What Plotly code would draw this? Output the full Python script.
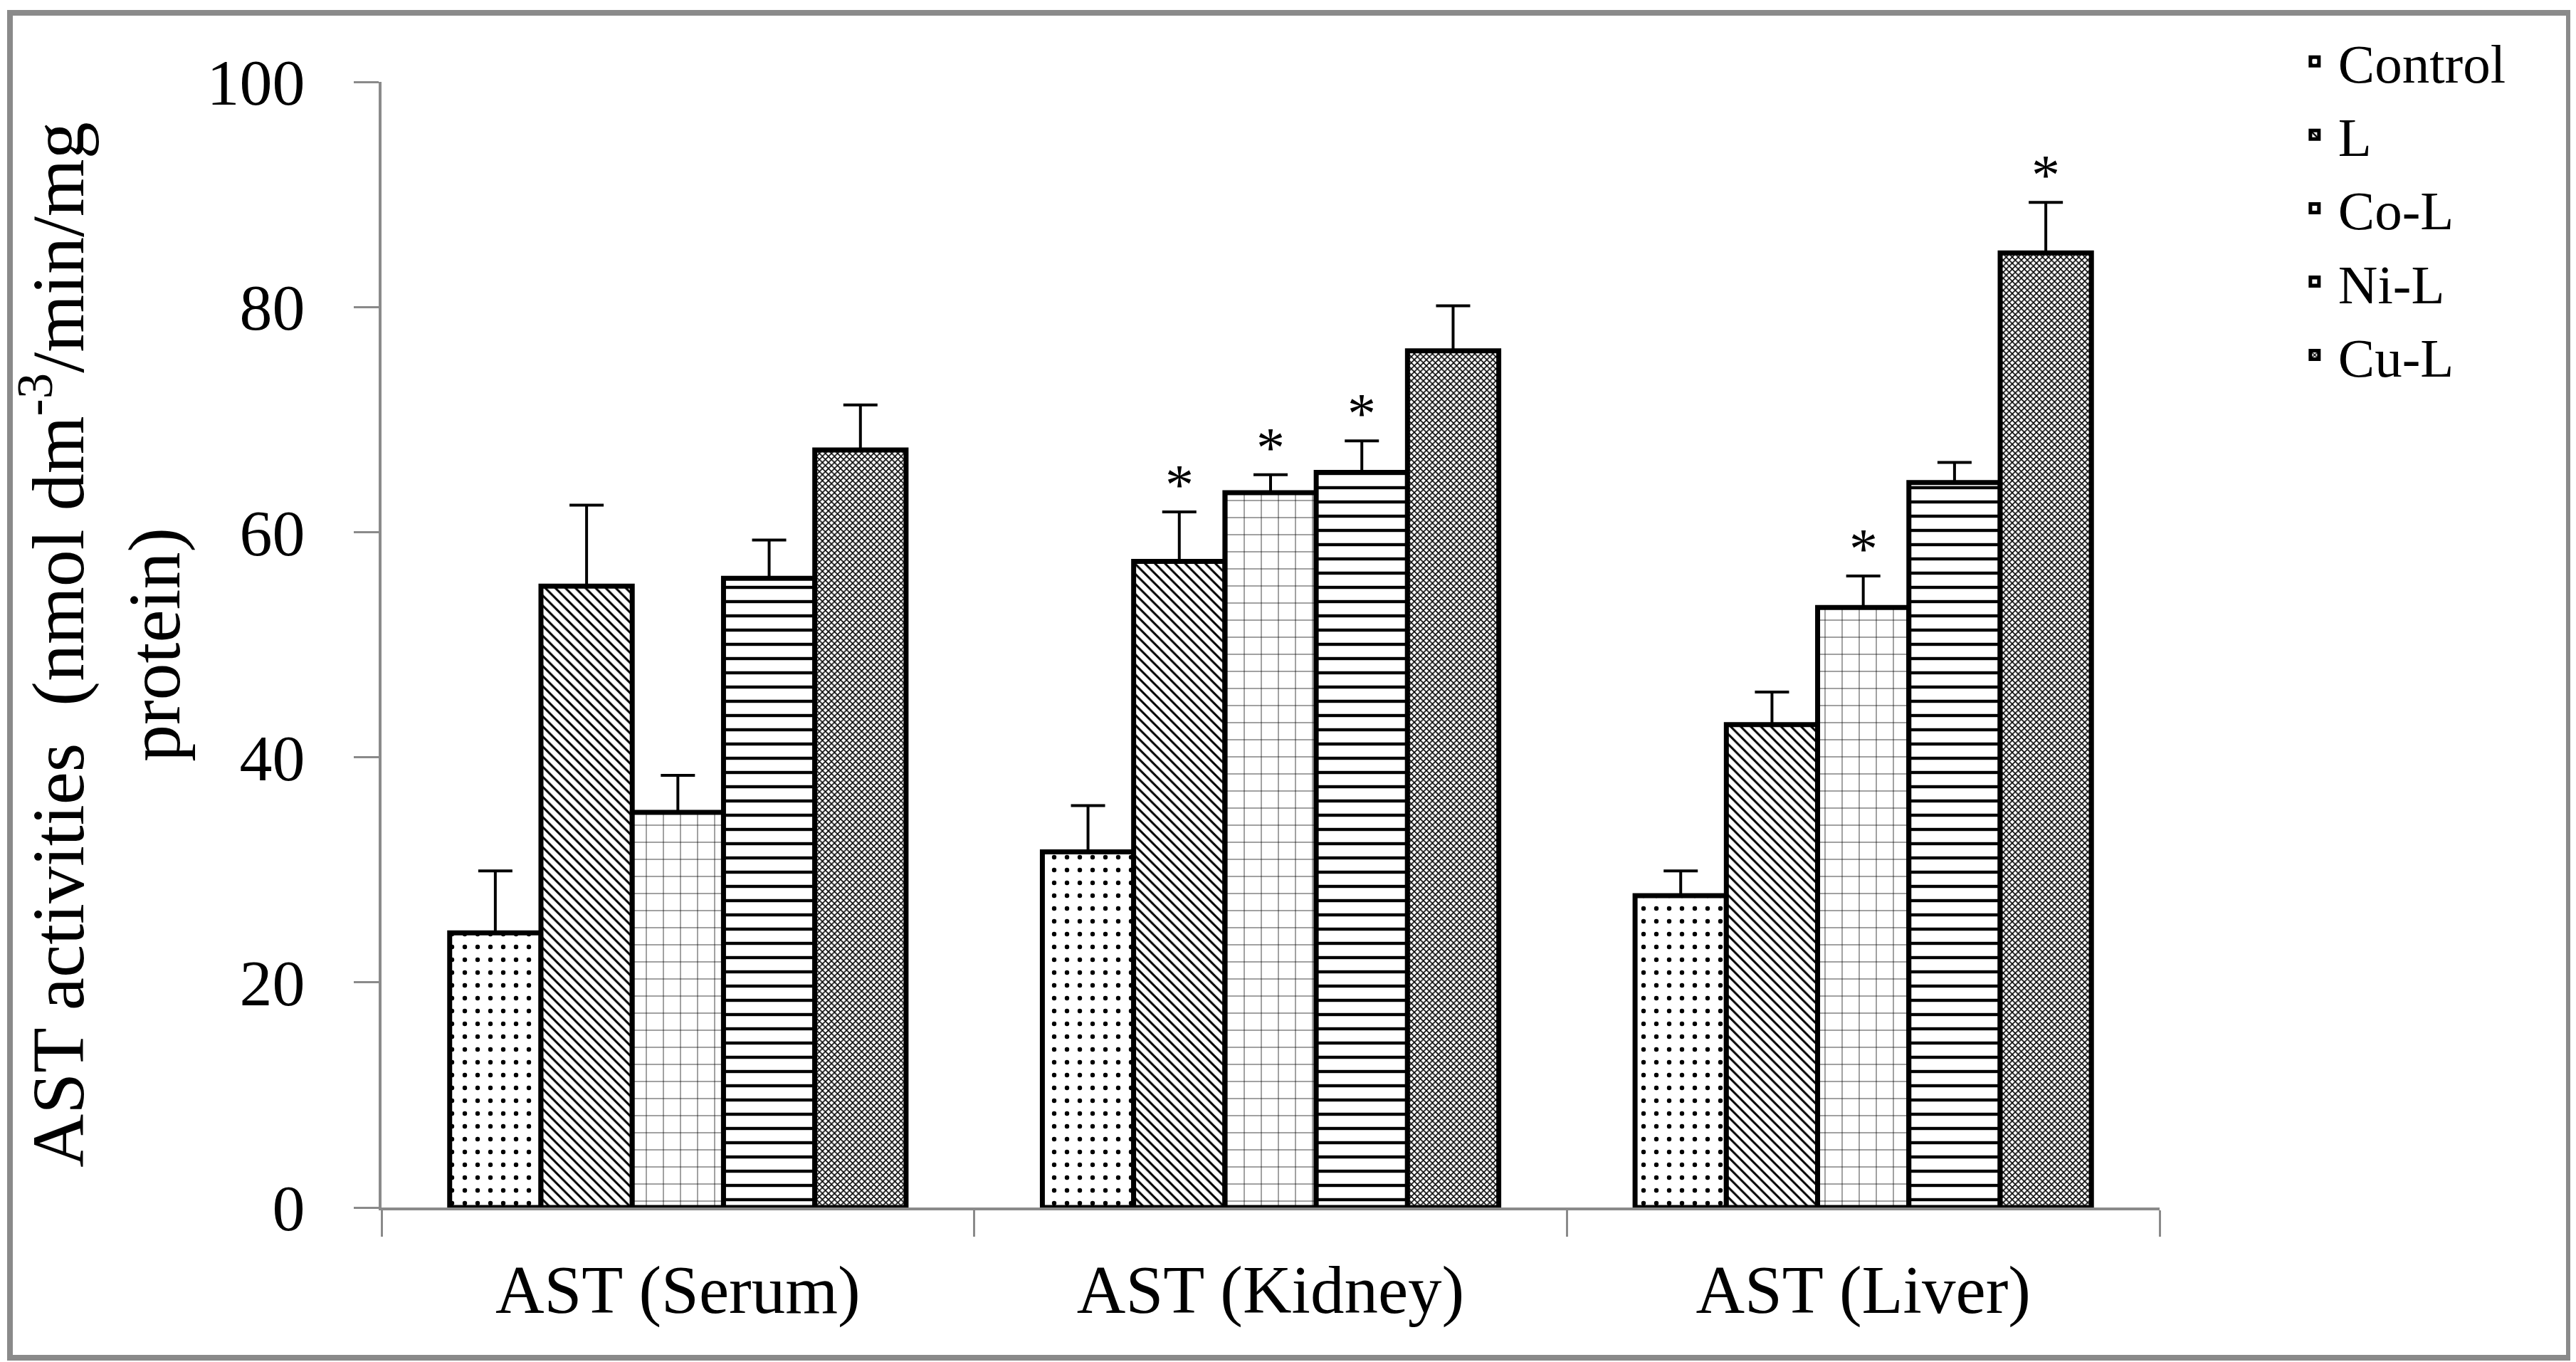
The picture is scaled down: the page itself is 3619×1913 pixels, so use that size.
import plotly.graph_objects as go

categories = ["AST (Serum)", "AST (Kidney)", "AST (Liver)"]
series_names = ["Control", "L", "Co-L", "Ni-L", "Cu-L"]

control = [24.4, 31.6, 27.7]
ligand = [55.2, 57.4, 42.9]
co_l = [35.1, 63.5, 53.3]
ni_l = [55.9, 65.3, 64.4]
cu_l = [67.3, 76.1, 84.8]

control_err = [5.5, 4.1, 2.2]
ligand_err = [7.2, 4.4, 2.9]
co_l_err = [3.3, 1.6, 2.8]
ni_l_err = [3.4, 2.8, 1.8]
cu_l_err = [4.0, 4.0, 4.5]

# significance markers (1 = asterisk)
control_sig = [0, 0, 0]
ligand_sig = [0, 1, 0]
co_l_sig = [0, 1, 1]
ni_l_sig = [0, 1, 0]
cu_l_sig = [0, 0, 1]

values = [control, ligand, co_l, ni_l, cu_l]
errors = [control_err, ligand_err, co_l_err, ni_l_err, cu_l_err]
sigs = [control_sig, ligand_sig, co_l_sig, ni_l_sig, cu_l_sig]

patterns = [
    dict(shape=".", size=18, solidity=0.1),
    dict(shape="\\", size=10, solidity=0.3),
    dict(shape="+", size=24, solidity=0.06),
    dict(shape="-", size=20, solidity=0.22),
    dict(shape="x", size=6, solidity=0.45),
]

FONT = "Liberation Serif"
BARGAP = 0.23

fig = go.Figure()
for name, vals, errs, pat in zip(series_names, values, errors, patterns):
    fig.add_trace(go.Bar(
        name=name,
        x=categories,
        y=vals,
        marker=dict(
            color="white",
            line=dict(color="black", width=7),
            pattern=dict(fgcolor="black", bgcolor="white", fillmode="replace", **pat),
        ),
        error_y=dict(type="data", array=errs, arrayminus=[0] * len(errs), symmetric=False,
                     color="black", thickness=4, width=24),
    ))

# asterisks above significant bars
n = len(series_names)
w = (1 - BARGAP) / n
annotations = []
for i, (vals, errs, sg) in enumerate(zip(values, errors, sigs)):
    off = -(1 - BARGAP) / 2 + w * (i + 0.5)
    for j, s in enumerate(sg):
        if s:
            annotations.append(dict(
                x=j + off, y=vals[j] + errs[j], xref="x", yref="y",
                text="*", showarrow=False, yanchor="bottom", yshift=-8,
                font=dict(family=FONT, size=80, color="black"),
            ))

# outer grey frame
shapes = [dict(type="rect", xref="paper", yref="paper",
               x0=(6 - 528) / 2498, x1=(3601 - 528) / 2498,
               y0=(1688 - 1899) / 1581, y1=(1688 - 10) / 1581,
               line=dict(color="#8a8a8a", width=8), layer="below")]

fig.update_layout(
    width=3619, height=1913,
    margin=dict(l=528, r=593, t=107, b=225, autoexpand=False),
    barmode="group", bargap=BARGAP, bargroupgap=0,
    plot_bgcolor="white", paper_bgcolor="white",
    font=dict(family=FONT, color="black"),
    showlegend=True,
    legend=dict(x=1.074, y=1.054, xanchor="left", yanchor="top",
                font=dict(family=FONT, size=77, color="black"),
                bgcolor="rgba(0,0,0,0)", tracegroupgap=0, itemwidth=56),
    annotations=annotations,
    shapes=shapes,
    xaxis=dict(
        type="category", range=[-0.5, 2.5], showline=True, linecolor="#8a8a8a", linewidth=4,
        ticks="outside", tickson="boundaries", ticklen=37, tickcolor="#8a8a8a", tickwidth=3,
        tickfont=dict(family=FONT, size=95, color="black"), ticklabelstandoff=30,
        showgrid=False, zeroline=False,
    ),
    yaxis=dict(
        range=[0, 100], dtick=20, showline=True, linecolor="#8a8a8a", linewidth=4,
        ticks="outside", ticklen=35, tickcolor="#8a8a8a", tickwidth=3,
        tickfont=dict(family=FONT, size=92, color="black"), ticklabelstandoff=50,
        showgrid=False, zeroline=False,
        title=dict(text="AST activities  (nmol dm<sup>-3</sup>/min/mg<br>protein)",
                   font=dict(family=FONT, size=104, color="black"), standoff=16),
    ),
)

fig.write_html("out.html")
